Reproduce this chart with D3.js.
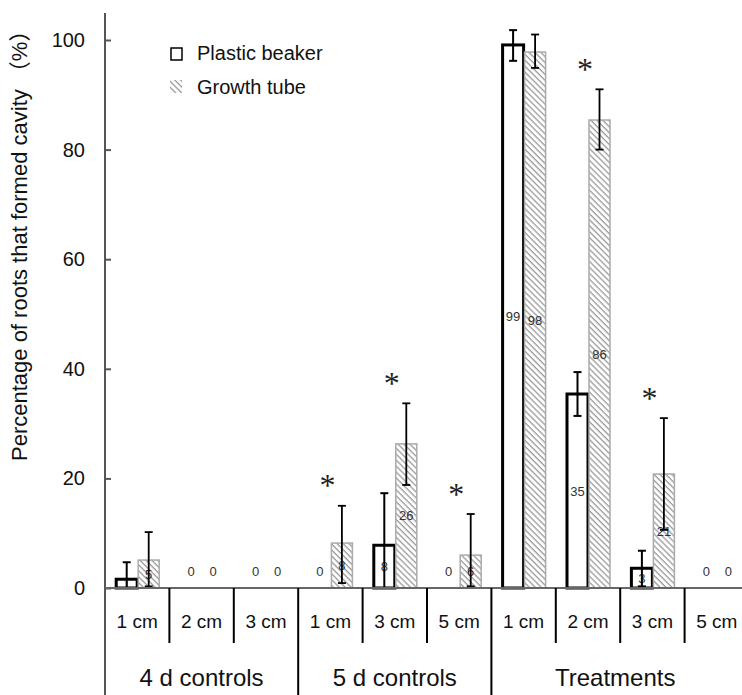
<!DOCTYPE html>
<html>
<head>
<meta charset="utf-8">
<script src="https://cdn.jsdelivr.net/npm/d3@7"></script>
<style>
  body { margin: 0; background: #fff; }
  svg { font-family: "Liberation Sans", Arial, "Noto Sans CJK SC", sans-serif; }
</style>
</head>
<body>
<div id="chart"></div>
<script>
// data
const groups = ["4 d controls", "5 d controls", "Treatments"];
const groupSizes = [3, 3, 4];
const categories = ["1 cm", "2 cm", "3 cm", "1 cm", "3 cm", "5 cm", "1 cm", "2 cm", "3 cm", "5 cm"];
const series = ["Plastic beaker", "Growth tube"];

const beakerValues = [1.6, 0, 0, 0, 7.8, 0, 99.1, 35.4, 3.6, 0];
const beakerLabels = ["1", "0", "0", "0", "8", "0", "99", "35", "3", "0"];
const beakerErrHigh = [4.7, null, null, null, 17.3, null, 101.8, 39.4, 6.8, null];
const beakerErrLow = [0, null, null, null, 0, null, 96.2, 31.4, 0.3, null];

const tubeValues = [5.1, 0, 0, 8.2, 26.3, 6.0, 97.8, 85.4, 20.8, 0];
const tubeLabels = ["5", "0", "0", "8", "26", "6", "98", "86", "21", "0"];
const tubeErrHigh = [10.2, null, null, 15, 33.7, 13.5, 101, 91, 31, null];
const tubeErrLow = [0.3, null, null, 0.9, 18.8, 0.3, 94.9, 80, 10.6, null];

const significant = [false, false, false, true, true, true, false, true, true, false];
const yTicks = [0, 20, 40, 60, 80, 100];

const width = 742, height = 695;
const svg = d3.select("#chart").append("svg")
    .attr("width", width).attr("height", height);

const defs = svg.append("defs");
const hatch = defs.append("pattern")
    .attr("id", "hatch")
    .attr("patternUnits", "userSpaceOnUse")
    .attr("width", 4.2).attr("height", 4.2)
    .attr("patternTransform", "rotate(-45)");
hatch.append("rect").attr("width", 4.2).attr("height", 4.2).attr("fill", "#fff");
hatch.append("line")
    .attr("x1", 1).attr("y1", 0).attr("x2", 1).attr("y2", 4.2)
    .attr("stroke", "#888").attr("stroke-width", 1.1);

const axisX = 105, baseY = 588;
const x = d3.scaleBand().domain(d3.range(categories.length)).range([axisX, 749]);
const y = d3.scaleLinear().domain([0, 100]).range([baseY, 40]);
const barW = 21;

// y axis
const yAxis = svg.append("g")
    .attr("transform", `translate(${axisX},0)`)
    .call(d3.axisLeft(y).tickValues(yTicks).tickSize(-6).tickPadding(20));
yAxis.select(".domain").remove();
yAxis.selectAll("line").attr("stroke", "#555").attr("stroke-width", 2);
yAxis.selectAll("text").style("font-size", "20px").attr("fill", "#111");

svg.append("line").attr("x1", axisX).attr("x2", axisX).attr("y1", 13).attr("y2", height)
    .attr("stroke", "#555").attr("stroke-width", 2);

svg.append("text")
    .attr("transform", "rotate(-90)")
    .attr("x", -461).attr("y", 27)
    .style("font-size", "22px").attr("fill", "#111")
    .text("Percentage of roots that formed cavity （%）");

// bars
const idx = d3.range(categories.length);

svg.selectAll(".beaker").data(idx).enter().append("rect")
    .attr("x", i => x(i) + x.bandwidth() / 2 - barW)
    .attr("y", i => y(beakerValues[i]))
    .attr("width", barW)
    .attr("height", i => y(0) - y(beakerValues[i]))
    .attr("fill", "#fff")
    .attr("stroke", i => beakerValues[i] > 0 ? "#000" : "none")
    .attr("stroke-width", 3);

svg.selectAll(".tube").data(idx).enter().append("rect")
    .attr("x", i => x(i) + x.bandwidth() / 2 + 1)
    .attr("y", i => y(tubeValues[i]))
    .attr("width", barW)
    .attr("height", i => y(0) - y(tubeValues[i]))
    .attr("fill", "url(#hatch)")
    .attr("stroke", i => tubeValues[i] > 0 ? "#aaa" : "none")
    .attr("stroke-width", 1.5);

// value labels
function valueLabels(values, labels, dx) {
    svg.selectAll(null).data(idx).enter().append("text")
        .attr("x", i => x(i) + x.bandwidth() / 2 + dx)
        .attr("y", i => values[i] > 0 ? y(values[i] / 2) : y(3))
        .attr("dy", "0.35em")
        .attr("text-anchor", "middle")
        .style("font-size", "13px")
        .attr("fill", "#333")
        .text(i => labels[i]);
}
valueLabels(beakerValues, beakerLabels, -barW / 2);
valueLabels(tubeValues, tubeLabels, barW / 2 + 1);

// error bars
function errorBars(hi, lo, dx, w) {
    const g = svg.append("g").attr("stroke", "#000").attr("stroke-width", w);
    idx.filter(i => hi[i] != null).forEach(i => {
        const cx = x(i) + x.bandwidth() / 2 + dx;
        g.append("line").attr("x1", cx).attr("x2", cx).attr("y1", y(hi[i])).attr("y2", y(lo[i]));
        g.append("line").attr("x1", cx - 4).attr("x2", cx + 4).attr("y1", y(hi[i])).attr("y2", y(hi[i]));
        g.append("line").attr("x1", cx - 4).attr("x2", cx + 4).attr("y1", y(lo[i])).attr("y2", y(lo[i]));
    });
}
errorBars(beakerErrHigh, beakerErrLow, -barW / 2, 2);
errorBars(tubeErrHigh, tubeErrLow, barW / 2 + 1, 1.8);

// significance stars
svg.selectAll(".star").data(idx.filter(i => significant[i])).enter().append("text")
    .attr("x", i => x(i) + x.bandwidth() / 2 - 3)
    .attr("y", i => y(d3.max([tubeErrHigh[i], beakerErrHigh[i]]) + 4.8) + 17)
    .attr("text-anchor", "middle")
    .style("font-family", "'Liberation Serif', 'Times New Roman', serif")
    .style("font-size", "32px")
    .attr("fill", "#222")
    .text("*");

// x axis line and separators
svg.append("line").attr("x1", axisX).attr("x2", width).attr("y1", baseY).attr("y2", baseY)
    .attr("stroke", "#666").attr("stroke-width", 2);

const groupStarts = d3.cumsum([0].concat(groupSizes)).slice(0, groupSizes.length);
idx.slice(1).forEach(i => {
    const isGroup = groupStarts.includes(i);
    svg.append("line")
        .attr("x1", x(i)).attr("x2", x(i))
        .attr("y1", baseY).attr("y2", isGroup ? height : 643)
        .attr("stroke", "#000").attr("stroke-width", 2);
});

svg.selectAll(".cat").data(idx).enter().append("text")
    .attr("x", i => x(i) + x.bandwidth() / 2)
    .attr("y", 628)
    .attr("text-anchor", "middle")
    .style("font-size", "19px").attr("fill", "#111")
    .text(i => categories[i]);

svg.selectAll(".grp").data(groups).enter().append("text")
    .attr("x", (d, g) => {
        const a = groupStarts[g], b = a + groupSizes[g] - 1;
        return (x(a) + x(b) + x.bandwidth()) / 2 + (g === 2 ? -5 : 0);
    })
    .attr("y", 686)
    .attr("text-anchor", "middle")
    .style("font-size", "24px").attr("fill", "#111")
    .text(d => d);

// legend
const legend = svg.append("g").attr("transform", "translate(170,47)");
legend.append("rect").attr("x", 1).attr("y", 1).attr("width", 11).attr("height", 12)
    .attr("fill", "#fff").attr("stroke", "#000").attr("stroke-width", 1.5);
legend.append("rect").attr("x", 0).attr("y", 33).attr("width", 12).attr("height", 13)
    .attr("fill", "url(#hatch)");
legend.selectAll("text").data(series).enter().append("text")
    .attr("x", 27).attr("y", (d, i) => 13 + i * 34)
    .style("font-size", "20px").attr("fill", "#111")
    .text(d => d);
</script>
</body>
</html>
